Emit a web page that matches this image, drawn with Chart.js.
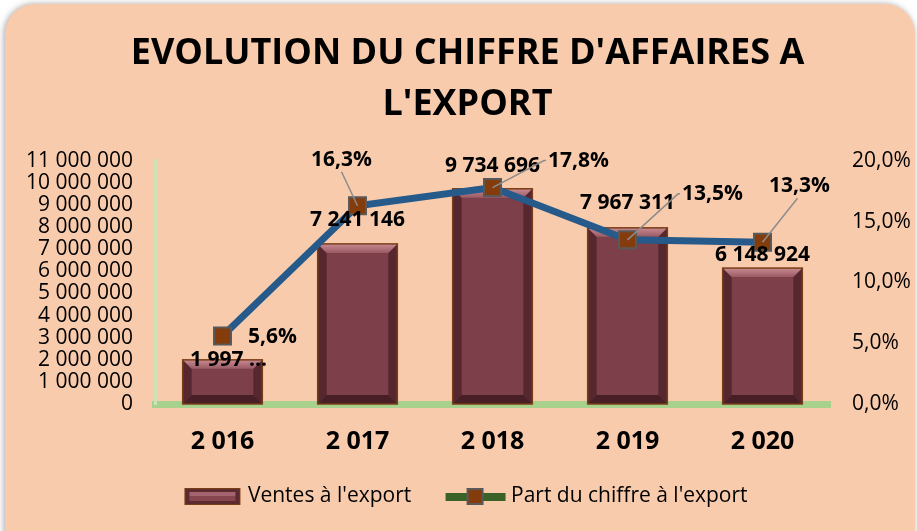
<!DOCTYPE html>
<html>
<head>
<meta charset="utf-8">
<script src="https://cdn.jsdelivr.net/npm/chart.js@4.4.1/dist/chart.umd.min.js"></script>
<style>
  html, body { margin: 0; padding: 0; background: #fff; width: 917px; height: 531px; overflow: hidden; }
  #card {
    position: absolute; left: 5px; top: 4px; width: 910px; height: 560px;
    background: #f8cbad; border-radius: 30px;
    box-shadow: -1px 0 6px rgba(0,0,0,0.35);
  }
  #wrap { position: absolute; left: 9px; top: 0; width: 917px; height: 531px; }
</style>
</head>
<body>
<div id="card"></div>
<div id="wrap"><canvas id="c" width="917" height="531"></canvas></div>
<script>
// data
const years = ['2 016', '2 017', '2 018', '2 019', '2 020'];
const ventes = [1997000, 7241146, 9734696, 7967311, 6148924];
const ventesLabels = ['1 997 ...', '7 241 146', '9 734 696', '7 967 311', '6 148 924'];
const partPct = [5.6, 16.3, 17.8, 13.5, 13.3];
const leftTicks = [0, 1000000, 2000000, 3000000, 4000000, 5000000, 6000000, 7000000, 8000000, 9000000, 10000000, 11000000];
const rightTicks = [0, 5, 10, 15, 20];

const FONT = '"Open Sans", "Noto Sans", sans-serif';

// label nudges (style only), dx/dy from the mark
const barLblOff = [[6, 0], [0, -24], [0, -23], [0, -25], [0, -13]];
const pctLblOff = [[50, 1], [-16, -46], [86, -27], [85, -46], [37, -56]];

const fmtNum = v => String(v).replace(/\B(?=(\d{3})+(?!\d))/g, ' ');
const fmtPct = v => v.toFixed(1).replace('.', ',') + '%';

// legend swatches
function barSwatch() {
  const c = document.createElement('canvas');
  c.width = 62; c.height = 17;
  const g = c.getContext('2d');
  g.fillStyle = '#7a3e16'; g.fillRect(3, 0, 56, 17);
  g.fillStyle = '#5c2a2f'; g.fillRect(4, 1, 54, 15);
  g.fillStyle = '#a4646f'; g.fillRect(8, 4, 46, 4);
  g.fillStyle = '#85464f'; g.fillRect(8, 8, 46, 5);
  return c;
}
function lineSwatch() {
  const c = document.createElement('canvas');
  c.width = 66; c.height = 17;
  const g = c.getContext('2d');
  g.fillStyle = '#3b6329'; g.fillRect(3, 5, 60, 8);
  g.fillStyle = '#843c0c'; g.fillRect(25, 1, 15, 15);
  g.strokeStyle = '#595959'; g.lineWidth = 2; g.strokeRect(25, 1, 15, 15);
  return c;
}

const bevelPlugin = {
  id: 'bevel',
  afterDatasetDraw(chart, args) {
    if (args.index !== 0) return;
    const ctx = chart.ctx;
    chart.getDatasetMeta(0).data.forEach(b => {
      const l = b.x - b.width / 2, r = b.x + b.width / 2, t = b.y, bt = b.base;
      const s = 9;
      ctx.save();
      ctx.fillStyle = 'rgba(40,10,15,0.45)';
      ctx.beginPath(); ctx.moveTo(l, t); ctx.lineTo(l + s, t + s); ctx.lineTo(l + s, bt - s); ctx.lineTo(l, bt); ctx.fill();
      ctx.beginPath(); ctx.moveTo(r, t); ctx.lineTo(r - s, t + s); ctx.lineTo(r - s, bt - s); ctx.lineTo(r, bt); ctx.fill();
      ctx.fillStyle = 'rgba(30,5,10,0.55)';
      ctx.beginPath(); ctx.moveTo(l, bt); ctx.lineTo(l + s, bt - s); ctx.lineTo(r - s, bt - s); ctx.lineTo(r, bt); ctx.fill();
      const gr = ctx.createLinearGradient(0, t, 0, t + s);
      gr.addColorStop(0, '#c88a93'); gr.addColorStop(1, '#9a5a64');
      ctx.fillStyle = gr;
      ctx.beginPath(); ctx.moveTo(l, t); ctx.lineTo(l + s, t + s); ctx.lineTo(r - s, t + s); ctx.lineTo(r, t); ctx.fill();
      ctx.strokeStyle = '#7a3e16'; ctx.lineWidth = 1.5;
      ctx.strokeRect(l, t, r - l, bt - t);
      ctx.restore();
    });
  }
};

const labelPlugin = {
  id: 'lbls',
  afterDatasetsDraw(chart) {
    const ctx = chart.ctx;
    ctx.save();
    ctx.font = 'bold 21px ' + FONT;
    ctx.fillStyle = '#000';
    ctx.textAlign = 'center';
    ctx.textBaseline = 'middle';
    chart.getDatasetMeta(0).data.forEach((b, i) => {
      ctx.fillText(ventesLabels[i], b.x + barLblOff[i][0], b.y + barLblOff[i][1]);
    });
    chart.getDatasetMeta(1).data.forEach((p, i) => {
      const lx = p.x + pctLblOff[i][0], ly = p.y + pctLblOff[i][1];
      if (i > 0) {
        const w = ctx.measureText(fmtPct(partPct[i])).width;
        let ex, ey;
        if (pctLblOff[i][0] > 60) { ex = lx - w / 2 - 4; ey = ly; }
        else { ex = lx + (pctLblOff[i][0] < 0 ? 0 : -2); ey = ly + 12; }
        ctx.strokeStyle = '#8c8c8c'; ctx.lineWidth = 1.5;
        ctx.beginPath(); ctx.moveTo(p.x, p.y); ctx.lineTo(ex, ey);
        if (pctLblOff[i][0] > 60) ctx.lineTo(ex + 2, ey);
        ctx.stroke();
      }
      ctx.fillText(fmtPct(partPct[i]), lx, ly);
    });
    ctx.restore();
  }
};

new Chart(document.getElementById('c'), {
  data: {
    labels: years,
    datasets: [
      {
        type: 'bar',
        label: "Ventes à l'export",
        data: ventes,
        yAxisID: 'y',
        backgroundColor: '#7d3f4a',
        borderWidth: 0,
        barPercentage: 0.59,
        categoryPercentage: 1,
        order: 2
      },
      {
        type: 'line',
        label: "Part du chiffre à l'export",
        data: partPct,
        yAxisID: 'y1',
        borderColor: '#255a8a',
        borderWidth: 7,
        pointStyle: 'rect',
        pointRadius: 12,
        pointBackgroundColor: '#843c0c',
        pointBorderColor: '#595959',
        pointBorderWidth: 2,
        tension: 0,
        order: 1
      }
    ]
  },
  options: {
    responsive: false,
    animation: false,
    layout: { padding: { left: 0, right: 0, top: 0, bottom: 14 } },
    plugins: {
      tooltip: { enabled: false },
      title: {
        display: true,
        text: ["EVOLUTION DU CHIFFRE D'AFFAIRES A", "L'EXPORT"],
        color: '#000',
        font: { family: FONT, size: 36, weight: 'bold', lineHeight: 1.4 },
        padding: { top: 29, bottom: 31 }
      },
      legend: {
        position: 'bottom',
        labels: {
          color: '#000',
          font: { family: FONT, size: 21 },
          usePointStyle: true,
          pointStyleWidth: 50,
          boxHeight: 17,
          padding: 12,
          generateLabels: () => [
            { text: "Ventes à l'export\u00a0\u00a0\u00a0\u00a0\u00a0", pointStyle: barSwatch(), fontColor: '#000', lineWidth: 0, strokeStyle: 'transparent', fillStyle: 'transparent', datasetIndex: 0 },
            { text: "Part du chiffre à l'export", pointStyle: lineSwatch(), fontColor: '#000', lineWidth: 0, strokeStyle: 'transparent', fillStyle: 'transparent', datasetIndex: 1 }
          ]
        }
      }
    },
    scales: {
      x: {
        grid: { display: false, drawTicks: false },
        border: { display: true, color: '#a9d18e', width: 7 },
        ticks: { color: '#000', font: { family: FONT, size: 25, weight: 'bold' }, padding: 23 },
        afterFit: s => { s.height = 70; }
      },
      y: {
        position: 'left',
        min: 0, max: 11000000,
        afterBuildTicks: s => { s.ticks = leftTicks.map(v => ({ value: v })); },
        grid: { display: false, drawTicks: false },
        border: { display: true, color: '#c9e2b8', width: 3 },
        ticks: { color: '#000', font: { family: FONT, size: 21 }, padding: 22, autoSkip: false, callback: v => fmtNum(v) },
        afterFit: s => { s.width = 146; }
      },
      y1: {
        position: 'right',
        min: 0, max: 20,
        afterBuildTicks: s => { s.ticks = rightTicks.map(v => ({ value: v })); },
        grid: { display: false, drawTicks: false },
        border: { display: false },
        ticks: { color: '#000', font: { family: FONT, size: 21 }, padding: 22, autoSkip: false, callback: v => fmtPct(v) },
        afterFit: s => { s.width = 96; }
      }
    }
  },
  plugins: [bevelPlugin, labelPlugin]
});
</script>
</body>
</html>
